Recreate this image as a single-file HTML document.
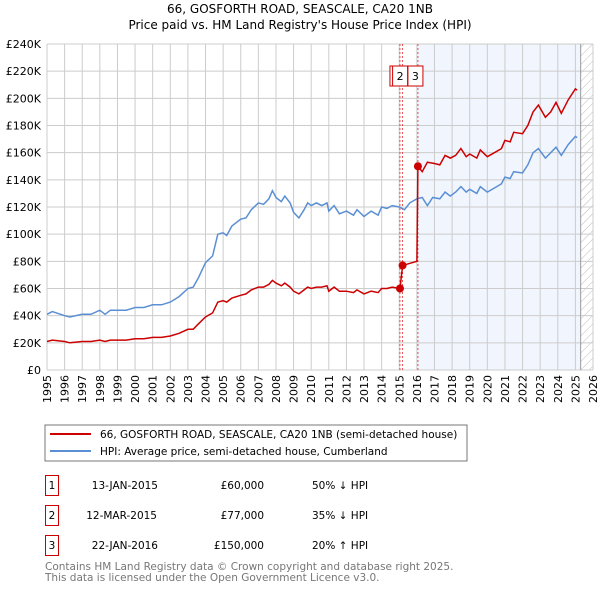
<!DOCTYPE html>
<html><head><meta charset="utf-8"><style>
body{margin:0;background:#fff;font-family:"DejaVu Sans","Liberation Sans",sans-serif;}
svg{display:block}
</style></head><body>
<svg id="c" width="600" height="590" xmlns="http://www.w3.org/2000/svg" font-family="DejaVu Sans, Liberation Sans, sans-serif">
<text x="300" y="13" text-anchor="middle" font-size="12">66, GOSFORTH ROAD, SEASCALE, CA20 1NB</text>
<text x="300" y="29" text-anchor="middle" font-size="12">Price paid vs. HM Land Registry's House Price Index (HPI)</text>
<defs><pattern id="hatch" width="6" height="6" patternUnits="userSpaceOnUse" patternTransform="rotate(45)"><line x1="0" y1="0" x2="0" y2="6" stroke="#bbb" stroke-width="1"/></pattern></defs>
<g id="plot"></g>
<g>
<rect x="45" y="425" width="422" height="36" fill="#fff" stroke="#777"/>
<line x1="50" y1="434" x2="91" y2="434" stroke="#cc0000" stroke-width="2"/>
<text x="100" y="438" font-size="10.5">66, GOSFORTH ROAD, SEASCALE, CA20 1NB (semi-detached house)</text>
<line x1="50" y1="451" x2="91" y2="451" stroke="#5b8fd4" stroke-width="2"/>
<text x="100" y="455" font-size="10.5">HPI: Average price, semi-detached house, Cumberland</text>
</g>
<g font-size="10.5">
<rect x="45.5" y="475.5" width="13" height="20" fill="#fff" stroke="#cc0000"/><text x="52" y="489" text-anchor="middle">1</text>
<text x="158" y="489" text-anchor="end">13-JAN-2015</text><text x="264" y="489" text-anchor="end">£60,000</text><text x="312" y="489">50% ↓ HPI</text>
<rect x="45.5" y="505.5" width="13" height="20" fill="#fff" stroke="#cc0000"/><text x="52" y="519" text-anchor="middle">2</text>
<text x="157" y="519" text-anchor="end">12-MAR-2015</text><text x="264" y="519" text-anchor="end">£77,000</text><text x="312" y="519">35% ↓ HPI</text>
<rect x="45.5" y="535.5" width="13" height="20" fill="#fff" stroke="#cc0000"/><text x="52" y="549" text-anchor="middle">3</text>
<text x="158" y="549" text-anchor="end">22-JAN-2016</text><text x="264" y="549" text-anchor="end">£150,000</text><text x="312" y="549">20% ↑ HPI</text>
</g>
<text x="45" y="570" font-size="10.5" fill="#777">Contains HM Land Registry data © Crown copyright and database right 2025.</text>
<text x="45" y="581" font-size="10.5" fill="#777">This data is licensed under the Open Government Licence v3.0.</text>
</svg>
<script>
const yearTicks=[1995,1996,1997,1998,1999,2000,2001,2002,2003,2004,2005,2006,2007,2008,2009,2010,2011,2012,2013,2014,2015,2016,2017,2018,2019,2020,2021,2022,2023,2024,2025,2026];
const priceTicks=[0,20,40,60,80,100,120,140,160,180,200,220,240];
const hpiDates=[1995,1995.3,1996,1996.3,1997,1997.5,1998,1998.3,1998.6,1999,1999.5,2000,2000.5,2001,2001.5,2002,2002.5,2003,2003.3,2003.6,2004,2004.4,2004.7,2005,2005.2,2005.5,2006,2006.3,2006.6,2007,2007.3,2007.6,2007.8,2008,2008.3,2008.5,2008.8,2009,2009.3,2009.6,2009.8,2010,2010.3,2010.6,2010.9,2011,2011.3,2011.6,2012,2012.4,2012.6,2013,2013.4,2013.8,2014,2014.3,2014.6,2015,2015.3,2015.6,2016,2016.3,2016.6,2016.9,2017.3,2017.6,2017.9,2018.2,2018.5,2018.8,2019,2019.4,2019.6,2020,2020.4,2020.8,2021,2021.3,2021.5,2022,2022.3,2022.6,2022.9,2023.3,2023.6,2023.9,2024.2,2024.6,2025,2025.1];
const hpiValues=[41,43,40,39,41,41,44,41,44,44,44,46,46,48,48,50,54,60,61,68,79,84,100,101,99,106,111,112,118,123,122,126,132,127,124,128,123,116,112,118,123,121,123,121,123,117,121,115,117,114,118,113,117,114,120,119,121,120,118,123,126,127,121,127,126,131,128,131,135,131,133,130,135,131,134,137,142,141,146,145,151,160,163,156,160,164,158,166,172,171];
const priceDates=[1995,1995.3,1996,1996.3,1997,1997.5,1998,1998.3,1998.6,1999,1999.5,2000,2000.5,2001,2001.5,2002,2002.5,2003,2003.3,2003.6,2004,2004.4,2004.7,2005,2005.2,2005.5,2006,2006.3,2006.6,2007,2007.3,2007.6,2007.8,2008,2008.3,2008.5,2008.8,2009,2009.3,2009.6,2009.8,2010,2010.3,2010.6,2010.9,2011,2011.3,2011.6,2012,2012.4,2012.6,2013,2013.4,2013.8,2014,2014.3,2014.6,2015.04,2015.19,2016.0,2016.06,2016.3,2016.6,2017,2017.3,2017.6,2017.9,2018.2,2018.5,2018.8,2019,2019.4,2019.6,2020,2020.4,2020.8,2021,2021.3,2021.5,2022,2022.3,2022.6,2022.9,2023.3,2023.6,2023.9,2024.2,2024.6,2025,2025.1];
const priceValues=[21,22,21,20,21,21,22,21,22,22,22,23,23,24,24,25,27,30,30,34,39,42,50,51,50,53,55,56,59,61,61,63,66,64,62,64,61,58,56,59,61,60,61,61,62,58,61,58,58,57,59,56,58,57,60,60,61,60,77,80,150,146,153,152,151,158,156,158,163,157,159,156,162,157,160,163,169,168,175,174,180,190,195,186,190,197,189,199,207,206];
const saleDates=[2015.04,2015.19,2016.06];
const saleValues=[60,77,150];
const saleLabels=["1","2","3"];

const X0=47,X1=593,Y0=370,Y1=44;
const x=t=>X0+(t-1995)*(X1-X0)/31;
const y=v=>Y0-v*(Y0-Y1)/240;
const NS="http://www.w3.org/2000/svg";
const g=document.getElementById('plot');
function mk(tag,attrs){const e=document.createElementNS(NS,tag);for(const k in attrs)e.setAttribute(k,attrs[k]);g.appendChild(e);return e;}

let e=mk('rect',{x:x(2016.06),y:Y1,width:x(2025.3)-x(2016.06),height:Y0-Y1,fill:'#eef3fc',opacity:0.8});


e=mk('rect',{x:x(2025.3),y:Y1,width:X1-x(2025.3),height:Y0-Y1,fill:'url(#hatch)'});



yearTicks.forEach(t=>{
  const l=mk('line',{x1:x(t),x2:x(t),y1:Y1,y2:Y0,stroke:'#ccc','stroke-width':1});
  
  
  const tx=mk('text',{x:0,y:0,'font-size':11,'text-anchor':'end',transform:`translate(${x(t)+4},${Y0+5}) rotate(-90)`});
  tx.textContent=t;
  
  
});
priceTicks.forEach(v=>{
  const l=mk('line',{x1:X0,x2:X1,y1:y(v),y2:y(v),stroke:'#ccc','stroke-width':1});
  
  
  const tx=mk('text',{x:X0-6,y:y(v)+4,'font-size':11,'text-anchor':'end'});
  tx.textContent=v===0?'£0':'£'+v+'K';
  
  
});
e=mk('line',{x1:x(2025.3),x2:x(2025.3),y1:Y1,y2:Y0,stroke:'#999','stroke-width':1});



saleDates.forEach(t=>{
  const l=mk('line',{x1:x(t),x2:x(t),y1:Y1,y2:Y0,stroke:'#e03030','stroke-width':0.8,'stroke-dasharray':'2,2'});
  
  
});

const pts=(d,v)=>d.map((t,i)=>x(t).toFixed(1)+','+y(v[i]).toFixed(1)).join(' ');
e=mk('polyline',{points:pts(hpiDates,hpiValues),fill:'none',stroke:'#5b8fd4','stroke-width':1.5});


e=mk('polyline',{points:pts(priceDates,priceValues),fill:'none',stroke:'#cc0000','stroke-width':1.5});



saleDates.forEach((t,i)=>{
  const c=mk('circle',{cx:x(t),cy:y(saleValues[i]),r:4,fill:'#cc0000'});
  
  
});
saleDates.forEach((t,i)=>{
  const rx=x(t)-10;
  const r=mk('rect',{x:rx,y:66,width:15,height:20,fill:'#fff',stroke:'#cc0000','stroke-width':1});
  
  
  const tx=mk('text',{x:rx+7.5,y:80,'font-size':11,'text-anchor':'middle'});
  tx.textContent=saleLabels[i];
  
  
});
</script>
</body></html>
